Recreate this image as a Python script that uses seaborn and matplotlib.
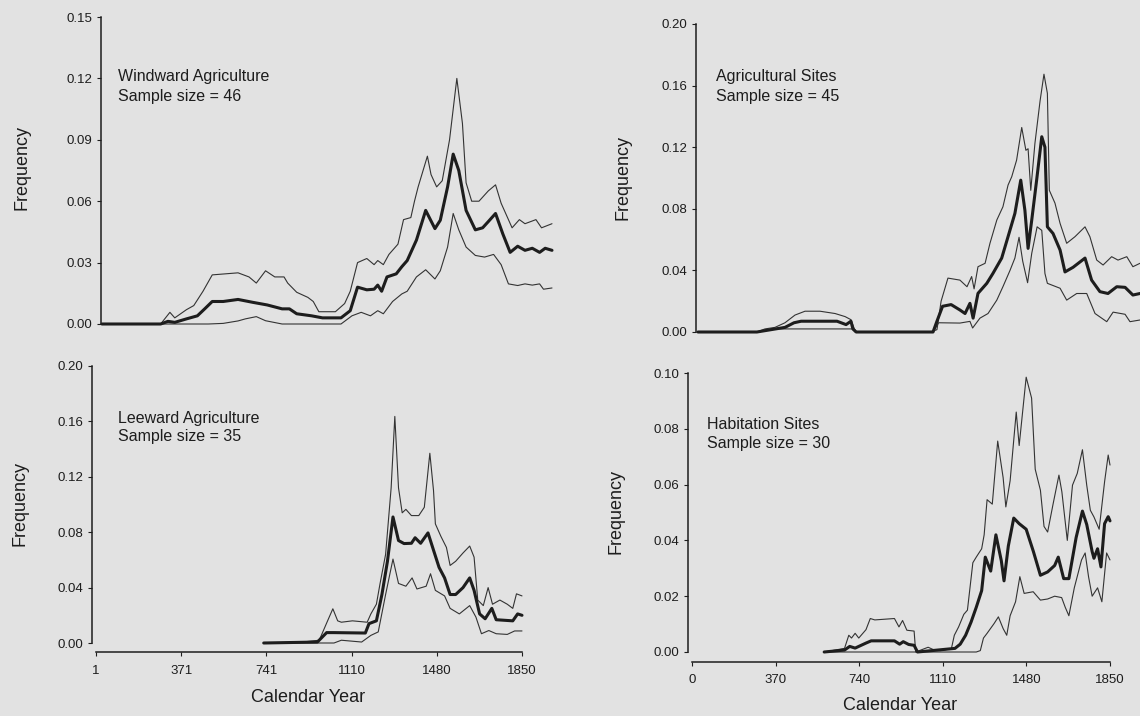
import numpy as np
import matplotlib
matplotlib.use("Agg")
import matplotlib.pyplot as plt
import seaborn as sns

# ---- data (year, frequency) ----
# Windward Agriculture (n = 46)
ww_up_yr = [1, 242, 280, 300, 348, 378, 416, 454, 560, 605, 635, 673, 711, 749, 764, 801, 847, 869, 892, 960,
            998, 1021, 1051, 1089, 1119, 1134, 1157, 1180, 1217, 1240, 1270, 1285, 1300, 1338, 1353, 1376, 1399,
            1429, 1459, 1482, 1497, 1520, 1550, 1588, 1618, 1641, 1686, 1716, 1739, 1784, 1807, 1850]
ww_up = [0, 0, .0057, .003, .007, .009, .016, .024, .025, .023, .020, .026, .023, .023, .020, .0155, .013, .011,
         .006, .006, .010, .016, .030, .032, .029, .031, .029, .034, .039, .051, .052, .060, .067, .082, .073,
         .067, .070, .090, .120, .098, .069, .060, .060, .065, .068, .059, .047, .051, .049, .051, .047, .049]
ww_mean_yr = [1, 242, 272, 300, 348, 393, 423, 454, 499, 560, 620, 680, 741, 771, 801, 862, 907, 983, 1021, 1051,
              1089, 1119, 1134, 1150, 1172, 1210, 1233, 1255, 1293, 1331, 1369, 1391, 1421, 1444, 1467, 1497, 1535,
              1565, 1588, 1618, 1648, 1678, 1709, 1739, 1769, 1799, 1822, 1850]
ww_mean = [0, 0, .0013, .0008, .0025, .004, .0074, .011, .011, .012, .0106, .0093, .0074, .0074, .005, .004, .003,
           .003, .0065, .018, .0167, .017, .019, .016, .023, .0245, .028, .031, .041, .0555, .0466, .0507, .067,
           .083, .075, .0555, .046, .047, .050, .054, .044, .035, .038, .036, .037, .035, .037, .036]
ww_lo_yr = [1, 438, 499, 560, 590, 635, 673, 741, 983, 1028, 1066, 1104, 1134, 1157, 1195, 1233, 1255, 1293, 1331,
            1369, 1391, 1421, 1444, 1467, 1497, 1535, 1573, 1610, 1641, 1671, 1709, 1739, 1769, 1799, 1815, 1850]
ww_lo = [0, 0, .0003, .0015, .0025, .0036, .0016, 0, 0, .004, .0057, .004, .0065, .005, .011, .0147, .016, .023,
         .0265, .022, .026, .0376, .054, .046, .0376, .0335, .0327, .034, .029, .0196, .0188, .0196, .019, .0196,
         .017, .0176]

# Leeward Agriculture (n = 35)
lw_up_yr = [729, 897, 970, 1002, 1029, 1050, 1066, 1114, 1178, 1194, 1218, 1234, 1258, 1282, 1298, 1314, 1330,
            1346, 1370, 1402, 1426, 1450, 1466, 1474, 1498, 1522, 1538, 1562, 1594, 1623, 1642, 1658, 1682, 1703,
            1722, 1754, 1786, 1810, 1826, 1850]
lw_up = [0, .0007, .002, .0144, .0247, .016, .015, .016, .015, .021, .028, .043, .064, .112, .1636, .112, .094,
         .0965, .092, .092, .098, .137, .110, .086, .077, .069, .056, .059, .065, .070, .062, .031, .027, .040,
         .028, .031, .028, .025, .0355, .034]
lw_mean_yr = [729, 962, 1002, 1034, 1170, 1186, 1218, 1242, 1266, 1290, 1314, 1338, 1370, 1386, 1410, 1442, 1466,
              1490, 1514, 1538, 1562, 1594, 1623, 1642, 1666, 1690, 1719, 1738, 1810, 1831, 1850]
lw_mean = [0, .0007, .0075, .0075, .0072, .014, .016, .035, .059, .091, .074, .0718, .072, .076, .072, .0795,
           .067, .0546, .047, .035, .035, .040, .047, .038, .021, .0175, .025, .0168, .016, .021, .020]
lw_lo_yr = [729, 1034, 1066, 1154, 1194, 1226, 1258, 1290, 1314, 1346, 1373, 1394, 1434, 1453, 1474, 1514, 1538,
            1578, 1623, 1650, 1674, 1706, 1738, 1786, 1818, 1850]
lw_lo = [0, 0, .002, .0007, .0055, .008, .035, .0606, .043, .041, .047, .039, .041, .050, .038, .034, .025, .021,
         .027, .0187, .0067, .009, .0067, .0062, .0087, .0087]

# Agricultural Sites (n = 45)
ag_up_yr = [0, 241, 274, 315, 356, 397, 438, 499, 561, 602, 626, 640, 650, 950, 978, 995, 1023, 1072, 1101, 1120,
            1130, 1146, 1175, 1195, 1223, 1248, 1269, 1284, 1304, 1325, 1342, 1351, 1362, 1379, 1400, 1416, 1430,
            1438, 1461, 1482, 1509, 1543, 1584, 1604, 1632, 1658, 1693, 1719, 1755, 1780, 1809, 1850]
ag_up = [0, 0, .002, .003, .006, .011, .0135, .0135, .012, .010, .008, .002, 0, 0, .0015, .020, .035, .0337,
         .0294, .036, .028, .0424, .0446, .0576, .0727, .0813, .0954, .1008, .1116, .1328, .118, .119, .092, .1225,
         .150, .1674, .155, .092, .0837, .0705, .0576, .0619, .0683, .0619, .0467, .0435, .0489, .0467, .0489,
         .0424, .0446, .044]
ag_mean_yr = [0, 241, 356, 393, 422, 569, 606, 626, 634, 647, 962, 978, 1001, 1036, 1072, 1093, 1113, 1126, 1146,
              1182, 1207, 1243, 1269, 1297, 1321, 1338, 1351, 1366, 1386, 1407, 1420, 1430, 1453, 1482, 1502, 1535,
              1584, 1611, 1645, 1678, 1714, 1748, 1780, 1809, 1850]
ag_mean = [0, 0, .003, .006, .007, .007, .0048, .007, .002, 0, 0, .007, .0167, .0178, .0143, .012, .0186, .009,
           .0251, .0316, .038, .048, .0619, .077, .0986, .079, .0543, .0727, .0986, .1268, .120, .0683, .064,
           .0532, .039, .042, .048, .0337, .0262, .025, .0294, .029, .024, .025, .025]
ag_lo_yr = [0, 241, 300, 630, 647, 962, 985, 1072, 1113, 1124, 1154, 1187, 1223, 1248, 1277, 1297, 1314, 1329,
            1349, 1366, 1388, 1407, 1420, 1430, 1482, 1509, 1550, 1591, 1625, 1673, 1699, 1748, 1768, 1809, 1850]
ag_lo = [0, 0, .002, .002, 0, 0, .006, .0058, .0069, .0026, .009, .012, .0207, .0294, .040, .048, .0615, .046,
         .032, .0511, .0683, .066, .038, .0316, .0284, .0207, .025, .025, .012, .0067, .0129, .0115, .0067, .0078,
         .008]

# Habitation Sites (n = 30)
hb_up_yr = [585, 675, 694, 706, 722, 738, 770, 789, 809, 896, 916, 932, 951, 983, 990, 1045, 1070, 1100, 1148,
            1161, 1180, 1203, 1219, 1243, 1258, 1282, 1293, 1306, 1329, 1353, 1377, 1389, 1408, 1435, 1448, 1479,
            1503, 1519, 1542, 1558, 1574, 1598, 1624, 1637, 1661, 1684, 1705, 1728, 1747, 1763, 1779, 1802, 1826,
            1842, 1850]
hb_up = [0, .0013, .006, .005, .0067, .005, .008, .012, .0115, .012, .009, .0113, .0078, .0075, 0, .0017, .0008,
         .0005, .0012, .006, .009, .0135, .015, .032, .034, .037, .042, .0546, .053, .0756, .0625, .052, .0614,
         .086, .074, .0985, .091, .0655, .058, .045, .043, .053, .0634, .0574, .040, .0598, .064, .0725, .0598,
         .0508, .0484, .044, .061, .0706, .067]
hb_mean_yr = [585, 675, 698, 722, 770, 793, 896, 919, 935, 959, 983, 998, 1164, 1187, 1211, 1235, 1258, 1282,
              1298, 1322, 1345, 1369, 1381, 1400, 1424, 1448, 1479, 1511, 1542, 1574, 1605, 1621, 1645, 1668, 1700,
              1728, 1747, 1771, 1779, 1795, 1810, 1826, 1842, 1850]
hb_mean = [0, .0007, .002, .0014, .0032, .004, .004, .0028, .0037, .0027, .0024, 0, .0013, .0028, .006, .0107,
           .016, .022, .034, .029, .042, .0327, .0255, .038, .048, .046, .044, .036, .0275, .0287, .031, .034,
           .0263, .0263, .041, .0505, .0457, .036, .0336, .037, .0305, .046, .0485, .047]
hb_lo_yr = [585, 1258, 1276, 1290, 1306, 1337, 1356, 1377, 1393, 1408, 1432, 1451, 1470, 1510, 1542, 1574, 1605,
            1636, 1652, 1668, 1692, 1724, 1740, 1755, 1771, 1795, 1814, 1835, 1850]
hb_lo = [0, 0, .0005, .005, .0067, .0102, .0126, .0084, .006, .013, .018, .027, .021, .0216, .0186, .019, .020,
         .0195, .016, .013, .023, .033, .0355, .027, .020, .023, .018, .0355, .033]

# ---- style ----
W, H = 1140, 716
bg = "#e2e2e2"
ink = "#1d1d1d"
thin_ink = "#333333"
sns.set_style("ticks")
plt.rcParams["font.family"] = ["Liberation Sans", "DejaVu Sans"]
plt.rcParams["text.color"] = ink
plt.rcParams["xtick.color"] = ink
plt.rcParams["ytick.color"] = ink
plt.rcParams["axes.edgecolor"] = ink

fig = plt.figure(figsize=(W / 100, H / 100), dpi=100)
fig.patch.set_facecolor(bg)


def px_axes(x_lo, x_hi, y_zero, y_top):
    # pixel box of the data area, y measured from the top of the image
    return fig.add_axes([x_lo / W, 1 - y_zero / H, (x_hi - x_lo) / W, (y_zero - y_top) / H])


def panel(ax, series, xlim, ymax, ystep, left_out, xticks=None, bottom_out=0):
    ax.set_facecolor("none")
    for yr, vals, lw, col in series:
        sns.lineplot(x=yr, y=vals, ax=ax, color=col, linewidth=lw, estimator=None)
    for ln in ax.get_lines():
        ln.set_clip_on(False)
    ax.set_xlim(*xlim)
    ax.set_ylim(0, ymax)
    yt = np.arange(0, ymax + 1e-9, ystep)
    ax.set_yticks(yt)
    ax.set_yticklabels([f"{v:.2f}" for v in yt])
    ax.spines["top"].set_visible(False)
    ax.spines["right"].set_visible(False)
    ax.spines["left"].set_position(("outward", left_out))
    ax.spines["left"].set_bounds(0, ymax)
    ax.spines["left"].set_linewidth(1.1)
    ax.tick_params(axis="y", direction="out", length=3, width=0.8, labelsize=9.5, pad=3)
    if xticks is None:
        ax.spines["bottom"].set_visible(False)
        ax.set_xticks([])
    else:
        ax.spines["bottom"].set_position(("outward", bottom_out))
        ax.spines["bottom"].set_bounds(xticks[0], xticks[-1])
        ax.spines["bottom"].set_linewidth(1.1)
        ax.set_xticks(xticks)
        ax.set_xticklabels([str(t) for t in xticks])
        ax.tick_params(axis="x", direction="out", length=3, width=0.8, labelsize=9.5, pad=6)
    ax.set_xlabel("")
    ax.set_ylabel("")


thin, thick = 0.8, 2.2

ax_tl = px_axes(102, 552, 324, 17)
panel(ax_tl, [(ww_up_yr, ww_up, thin, thin_ink), (ww_lo_yr, ww_lo, thin, thin_ink),
              (ww_mean_yr, ww_mean, thick, ink)],
      (1, 1850), 0.15, 0.03, 1)

ax_bl = px_axes(96, 522, 643, 366)
panel(ax_bl, [(lw_up_yr, lw_up, thin, thin_ink), (lw_lo_yr, lw_lo, thin, thin_ink),
              (lw_mean_yr, lw_mean, thick, ink)],
      (1, 1850), 0.20, 0.04, 3, xticks=[1, 371, 741, 1110, 1480, 1850], bottom_out=6.5)

ax_tr = px_axes(698, 1150, 332, 24)
panel(ax_tr, [(ag_up_yr, ag_up, thin, thin_ink), (ag_lo_yr, ag_lo, thin, thin_ink),
              (ag_mean_yr, ag_mean, thick, ink)],
      (0, 1850), 0.20, 0.04, 1.5)

ax_br = px_axes(692, 1110, 652, 373)
panel(ax_br, [(hb_up_yr, hb_up, thin, thin_ink), (hb_lo_yr, hb_lo, thin, thin_ink),
              (hb_mean_yr, hb_mean, thick, ink)],
      (0, 1850), 0.10, 0.02, 3, xticks=[0, 370, 740, 1110, 1480, 1850], bottom_out=7)


def ftext(x, y, s, **kw):
    fig.text(x / W, 1 - y / H, s, **kw)


lab = dict(fontsize=11.5, ha="left", va="center")
ftext(118, 77, "Windward Agriculture", **lab)
ftext(118, 96, "Sample size = 46", **lab)
ftext(118, 418, "Leeward Agriculture", **lab)
ftext(118, 437, "Sample size = 35", **lab)
ftext(716, 77, "Agricultural Sites", **lab)
ftext(716, 97, "Sample size = 45", **lab)
ftext(707, 424, "Habitation Sites", **lab)
ftext(707, 443, "Sample size = 30", **lab)

ylab = dict(fontsize=13, rotation=90, ha="center", va="center")
ftext(22, 168, "Frequency", **ylab)
ftext(20, 504, "Frequency", **ylab)
ftext(623, 178, "Frequency", **ylab)
ftext(616, 512, "Frequency", **ylab)

xlab = dict(fontsize=13, ha="center", va="center")
ftext(308, 698, "Calendar Year", **xlab)
ftext(900, 706, "Calendar Year", **xlab)

fig.savefig("out.png", dpi=100, facecolor=bg)
